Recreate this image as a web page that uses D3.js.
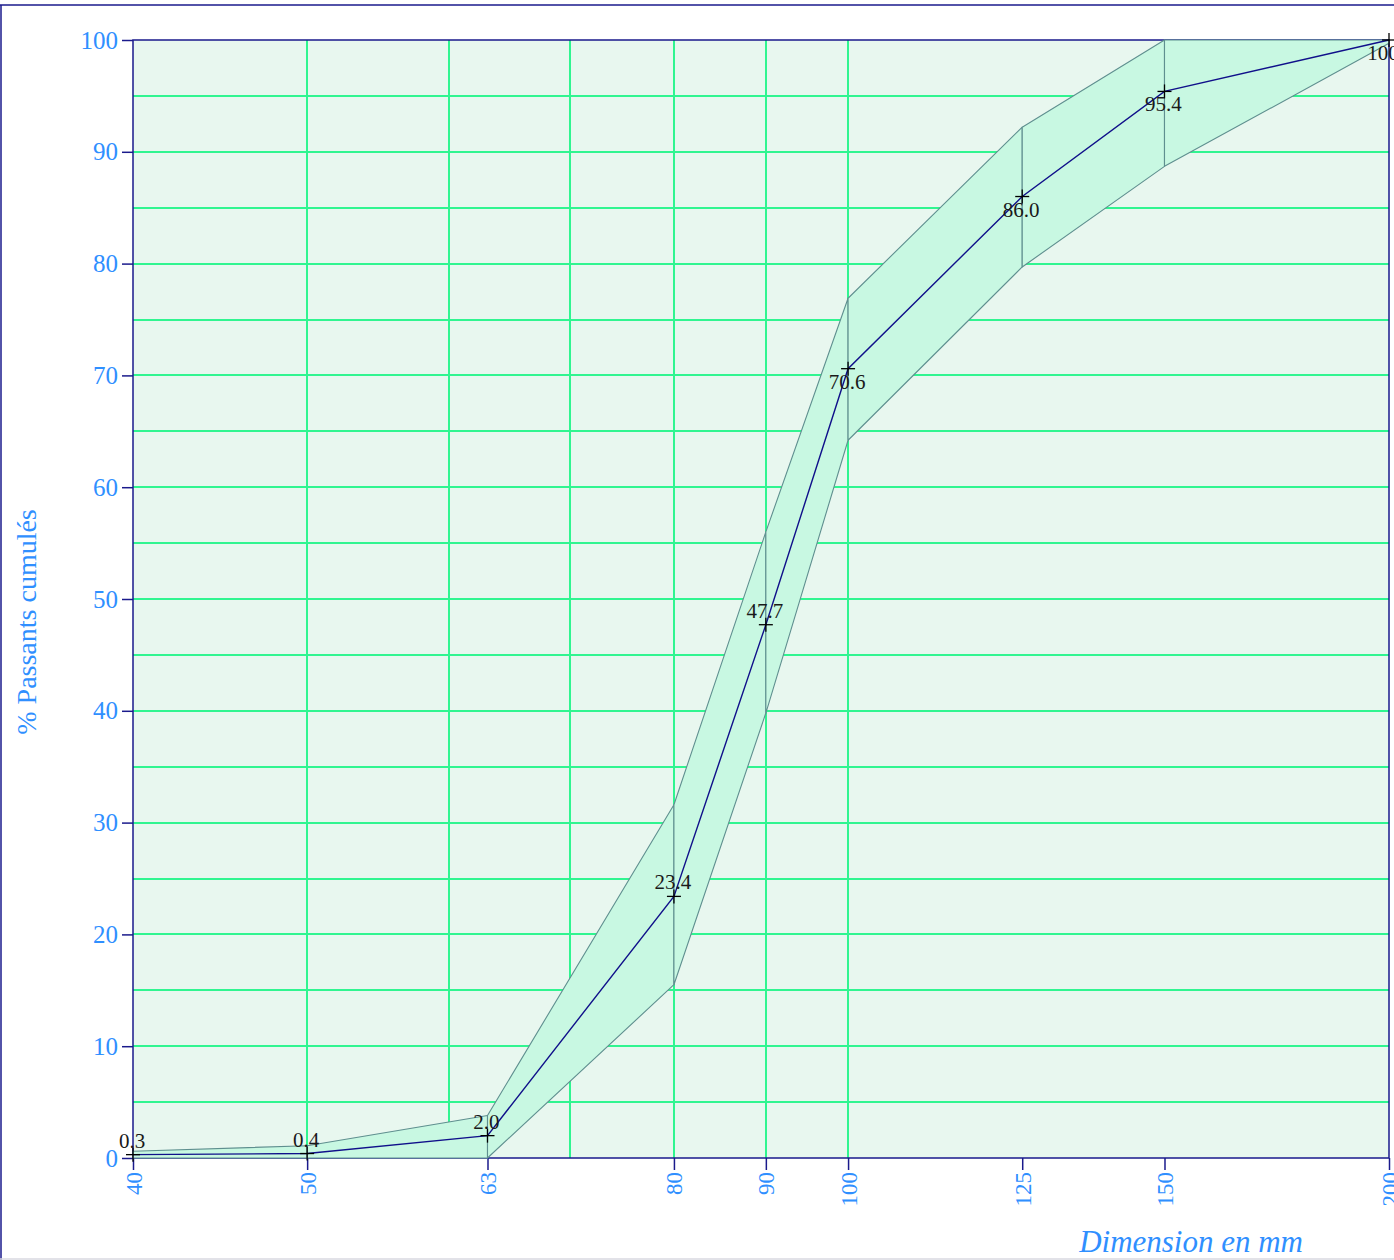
<!DOCTYPE html>
<html>
<head>
<meta charset="utf-8">
<script src="https://cdn.jsdelivr.net/npm/d3@7"></script>
<style>
  body { margin: 0; background: #fff; }
  svg { display: block; }
</style>
</head>
<body>
<svg id="chart" width="1394" height="1260"></svg>
<script>
// sieve sizes (mm) and cumulative passing (%)
const sieves = [40, 50, 63, 80, 90, 100, 125, 150, 200];
const passing = [0.3, 0.4, 2.0, 23.4, 47.7, 70.6, 86.0, 95.4, 100];
// envelope of the specification band
const upperLimit = [0.6, 1.1, 3.8, 31.6, 56.0, 76.9, 92.2, 100, 100];
const lowerLimit = [0, 0, 0, 15.5, 39.8, 64.2, 79.7, 88.7, 99.7];
// tick labels
const xTickLabels = [40, 50, 63, 80, 90, 100, 125, 150, 200];
const yTickLabels = [0, 10, 20, 30, 40, 50, 60, 70, 80, 90, 100];
const xGrid = [50, 60, 70, 80, 90, 100];
const yGrid = d3.range(5, 100, 5);

const LEFT = 133, RIGHT = 1389, TOP = 40, BOTTOM = 1158;
const BLUE = "#2f8fff", NAVY = "#1a1a8c", GRID = "#30f590";
const SERIF = "'Liberation Serif', 'DejaVu Serif', serif";

const svg = d3.select("#chart");
const x = d3.scaleLog().domain([40, 200]).range([LEFT, RIGHT]);
const y = d3.scaleLinear().domain([0, 100]).range([BOTTOM, TOP]);

// outer frame
svg.append("line").attr("x1", 1).attr("x2", 1).attr("y1", 5).attr("y2", 1260)
  .attr("stroke", NAVY).attr("stroke-width", 1.5);
svg.append("line").attr("x1", 0).attr("x2", 1394).attr("y1", 5).attr("y2", 5)
  .attr("stroke", NAVY).attr("stroke-width", 1.5);
svg.append("line").attr("x1", 0).attr("x2", 1394).attr("y1", 1259).attr("y2", 1259)
  .attr("stroke", "#d8d8e0").attr("stroke-width", 1.5);

// plot background
svg.append("rect").attr("x", LEFT).attr("y", TOP)
  .attr("width", RIGHT - LEFT).attr("height", BOTTOM - TOP)
  .attr("fill", "#e8f7ef");

// grid
svg.append("g").attr("shape-rendering", "crispEdges")
  .selectAll("line").data(yGrid).enter().append("line")
  .attr("x1", LEFT).attr("x2", RIGHT)
  .attr("y1", d => Math.round(y(d))).attr("y2", d => Math.round(y(d)))
  .attr("stroke", GRID).attr("stroke-width", 2);
svg.append("g").attr("shape-rendering", "crispEdges")
  .selectAll("line").data(xGrid).enter().append("line")
  .attr("x1", d => Math.round(x(d))).attr("x2", d => Math.round(x(d)))
  .attr("y1", TOP).attr("y2", BOTTOM)
  .attr("stroke", GRID).attr("stroke-width", 2);

// axes frame + ticks
const yAxis = d3.axisLeft(y).tickValues(yTickLabels).tickSize(11).tickPadding(4);
const gy = svg.append("g").attr("transform", `translate(${LEFT},0)`).call(yAxis);
gy.select(".domain").remove();
gy.selectAll(".tick line").attr("stroke", NAVY).attr("stroke-width", 1.5);
gy.selectAll(".tick text").attr("fill", BLUE)
  .attr("font-family", SERIF)
  .attr("font-size", 25);

const xAxis = d3.axisBottom(x).tickValues(xTickLabels).tickFormat(d3.format("d")).tickSize(12);
const gx = svg.append("g").attr("transform", `translate(0,${BOTTOM})`).call(xAxis);
gx.select(".domain").remove();
gx.selectAll(".tick line").attr("stroke", NAVY).attr("stroke-width", 1.5);
gx.selectAll(".tick text").attr("fill", BLUE)
  .attr("font-family", SERIF)
  .attr("font-size", 23)
  .attr("text-anchor", "end")
  .attr("dy", null)
  .attr("y", 0)
  .attr("transform", "translate(8,14) rotate(-90)");

svg.append("rect").attr("x", LEFT).attr("y", TOP)
  .attr("width", RIGHT - LEFT).attr("height", BOTTOM - TOP)
  .attr("fill", "none").attr("stroke", NAVY).attr("stroke-width", 1.5);

// specification band, one quad per sieve interval
const quads = d3.range(sieves.length - 1).map(i => [
  [x(sieves[i]), y(upperLimit[i])],
  [x(sieves[i + 1]), y(upperLimit[i + 1])],
  [x(sieves[i + 1]), y(lowerLimit[i + 1])],
  [x(sieves[i]), y(lowerLimit[i])]
]);
svg.append("g").selectAll("path").data(quads).enter().append("path")
  .attr("d", d => "M" + d.join("L") + "Z")
  .attr("fill", "#c8f8e2")
  .attr("stroke", "#5f8f8f")
  .attr("stroke-width", 1.1)
  .attr("stroke-linejoin", "round");

// passing curve
const pts = sieves.map((s, i) => [x(s), y(passing[i])]);
svg.append("path").attr("d", d3.line()(pts))
  .attr("fill", "none").attr("stroke", "#10108a").attr("stroke-width", 1.4);

// crosshair markers
const mk = svg.append("g").attr("stroke", "#000").attr("stroke-width", 1.3);
pts.forEach(p => {
  mk.append("line").attr("x1", p[0] - 7).attr("x2", p[0] + 7).attr("y1", p[1]).attr("y2", p[1]);
  mk.append("line").attr("x1", p[0]).attr("x2", p[0]).attr("y1", p[1] - 7).attr("y2", p[1] + 7);
});

// value labels
svg.append("g").selectAll("text").data(passing).enter().append("text")
  .attr("x", (d, i) => x(sieves[i]) + (i === sieves.length - 1 ? -6 : -1))
  .attr("y", (d, i) => y(d) + (d >= 70 ? 20 : -7))
  .attr("text-anchor", "middle")
  .attr("font-family", SERIF)
  .attr("font-size", 21)
  .attr("fill", "#1a1a1a")
  .text((d, i) => i === sieves.length - 1 ? d3.format("d")(d) : d3.format(".1f")(d));

// axis titles
svg.append("text")
  .attr("transform", "translate(36,622) rotate(-90)")
  .attr("text-anchor", "middle")
  .attr("font-family", SERIF)
  .attr("font-size", 28)
  .attr("fill", BLUE)
  .text("% Passants cumulés");

svg.append("text")
  .attr("x", 1303).attr("y", 1252)
  .attr("text-anchor", "end")
  .attr("font-family", SERIF)
  .attr("font-style", "italic")
  .attr("font-size", 31)
  .attr("fill", BLUE)
  .text("Dimension en mm");
</script>
</body>
</html>
